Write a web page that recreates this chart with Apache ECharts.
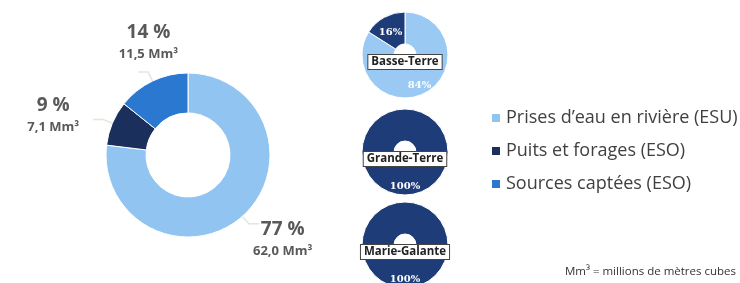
<!DOCTYPE html>
<html>
<head>
<meta charset="utf-8">
<script src="https://cdn.jsdelivr.net/npm/echarts@6/dist/echarts.min.js"></script>
<style>
  html, body { margin: 0; padding: 0; background: #fff; }
  #chart { width: 740px; height: 283px; }
</style>
</head>
<body>
<div id="chart"></div>
<script>
// categories (ressource)
var categories = ['Prises d\u2019eau en rivière (ESU)', 'Puits et forages (ESO)', 'Sources captées (ESO)']
// main donut: volume in Mm3 and share in %
var volumes = [62.0, 7.1, 11.5]
var shares = [77, 9, 14]
// islands: share of each category in %
var islands = ['Basse-Terre', 'Grande-Terre', 'Marie-Galante']
var islandShares = [
  [84, 16, 0],
  [0, 100, 0],
  [0, 100, 0]
]
var footnote = 'Mm³ = millions de mètres cubes'

var colors = ['#92c4f1', '#1b2f5c', '#2a78cf']
var smallColors = ['#9acaf3', '#1e3c78', '#2a78cf']
var font = '"Open Sans", sans-serif'

// petits decalages des etiquettes du grand anneau
var labelShift = [[-11, 15], [-9, -5], [45, -30]]

function fmt (v) {
  return v.toFixed(1).replace('.', ',')
}

var chart = echarts.init(document.getElementById('chart'))

var series = [
  {
    type: 'pie',
    name: 'main',
    center: [188, 155],
    radius: [42, 82],
    startAngle: 90,
    clockwise: true,
    avoidLabelOverlap: false,
    itemStyle: { borderColor: '#fff', borderWidth: 1 },
    label: {
      show: true,
      position: 'outside',
      fontFamily: font,
      formatter: function (p) {
        return '{p|' + shares[p.dataIndex] + ' %}\n{v|' + fmt(volumes[p.dataIndex]) + ' Mm³}'
      },
      rich: {
        p: { fontSize: 19, fontWeight: 'bold', color: '#595959', fontFamily: font, align: 'center', lineHeight: 25 },
        v: { fontSize: 13, fontWeight: 'bold', color: '#595959', fontFamily: font, align: 'center', lineHeight: 18 }
      }
    },
    labelLayout: function (params) {
      var s = labelShift[params.dataIndex]
      return { dx: s[0], dy: s[1] }
    },
    labelLine: {
      length: 10,
      length2: 10,
      lineStyle: { color: '#e2e8da', width: 1.5 }
    },
    emphasis: { scale: false },
    data: categories.map(function (c, i) {
      return { name: c, value: volumes[i], itemStyle: { color: colors[i] } }
    })
  }
]

var islandCenters = [[405, 55], [405, 152], [405, 245]]
var graphics = []

islands.forEach(function (isl, k) {
  series.push({
    type: 'pie',
    name: isl,
    center: islandCenters[k],
    radius: [11, 43],
    startAngle: 90,
    clockwise: true,
    avoidLabelOverlap: false,
    emphasis: { scale: false },
    itemStyle: { borderColor: '#fff', borderWidth: 1 },
    label: {
      show: true,
      position: 'inside',
      color: '#fff',
      fontSize: 10,
      fontWeight: 'bold',
      fontFamily: 'DejaVu Serif, serif',
      formatter: function (p) {
        return p.value > 0 ? p.value + '%' : ''
      }
    },
    labelLayout: function (params) {
      return { dy: 4 }
    },
    labelLine: { show: false },
    data: categories.map(function (c, i) {
      return { name: c, value: islandShares[k][i], itemStyle: { color: smallColors[i] } }
    }).filter(function (d) { return d.value > 0 })
  })
  graphics.push({
    type: 'text',
    z: 100,
    x: islandCenters[k][0],
    y: islandCenters[k][1] + 7,
    style: {
      text: isl,
      fontSize: 11.5,
      fontWeight: 'bold',
      fontFamily: font,
      fill: '#222',
      align: 'center',
      verticalAlign: 'middle',
      backgroundColor: '#fff',
      borderColor: '#444',
      borderWidth: 1,
      padding: [1, 3]
    }
  })
})

graphics.push({
  type: 'text',
  z: 100,
  right: 4,
  top: 266,
  style: {
    text: footnote,
    fontSize: 11.5,
    fontFamily: font,
    fill: '#333'
  }
})

var option = {
  animation: false,
  legend: {
    orient: 'vertical',
    left: 485,
    top: 104,
    icon: 'rect',
    itemWidth: 10,
    itemHeight: 10,
    itemGap: 15,
    data: categories,
    textStyle: { fontSize: 18, color: '#404040', fontFamily: font }
  },
  graphic: graphics,
  series: series
}

chart.setOption(option)
</script>
</body>
</html>
